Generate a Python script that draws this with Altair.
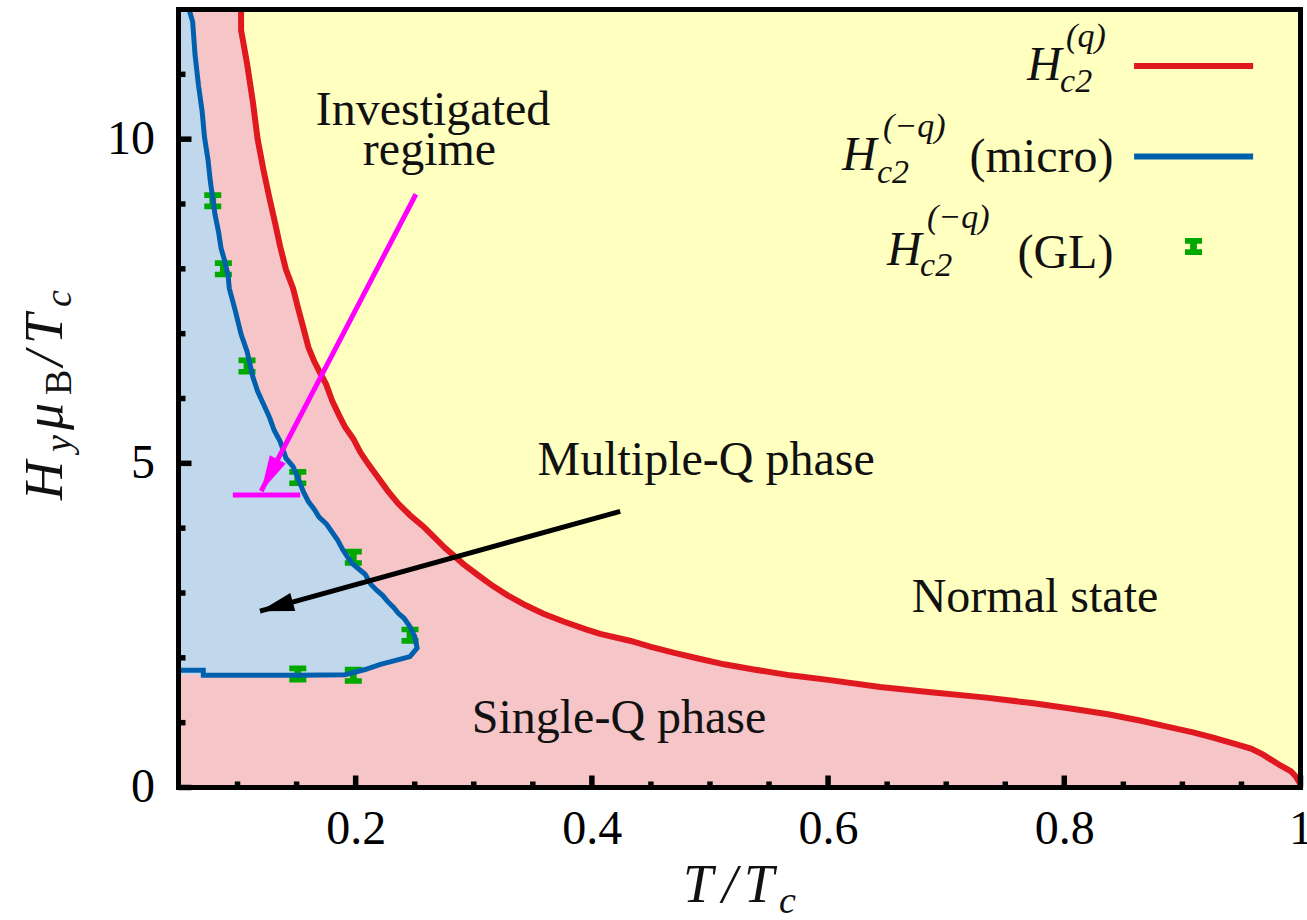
import math
import altair as alt
import pandas as pd

# ---------------- data ----------------
# H_c2^(q) (red)
red_x = [0.103, 0.103, 0.108, 0.113, 0.117, 0.122, 0.127, 0.132, 0.136, 0.141,
         0.147, 0.151, 0.156, 0.160, 0.165, 0.170, 0.175, 0.180, 0.186, 0.191,
         0.198, 0.204, 0.211, 0.219, 0.227, 0.236, 0.246, 0.257, 0.266, 0.276,
         0.291, 0.304, 0.316, 0.329, 0.344, 0.359, 0.376, 0.395, 0.407, 0.433,
         0.450, 0.469, 0.490, 0.512, 0.537, 0.568, 0.600, 0.644, 0.687, 0.732,
         0.774, 0.808, 0.837, 0.865, 0.887, 0.909, 0.926, 0.943, 0.958, 0.968,
         0.975, 0.983, 0.992, 0.996, 1.0]
red_y = [12.0, 11.68, 11.17, 10.57, 10.0, 9.52, 9.09, 8.69, 8.35, 7.99,
         7.70, 7.41, 7.07, 6.79, 6.57, 6.39, 6.22, 5.97, 5.74, 5.56,
         5.38, 5.17, 4.98, 4.78, 4.58, 4.38, 4.20, 4.03, 3.87, 3.69,
         3.45, 3.27, 3.11, 2.96, 2.81, 2.68, 2.56, 2.44, 2.37, 2.26,
         2.17, 2.08, 1.99, 1.90, 1.82, 1.73, 1.66, 1.55, 1.47, 1.39,
         1.30, 1.21, 1.13, 1.03, 0.94, 0.85, 0.77, 0.68, 0.60, 0.51,
         0.43, 0.34, 0.25, 0.17, 0.05]

# H_c2^(-q) (micro) (blue), in drawing order
blue_x = [0.059, 0.062, 0.064, 0.067, 0.070, 0.072, 0.075, 0.077, 0.079, 0.081,
          0.084, 0.086, 0.089, 0.092, 0.093, 0.098, 0.103, 0.108, 0.113, 0.117,
          0.122, 0.127, 0.131, 0.136, 0.141, 0.147, 0.151, 0.156, 0.160, 0.165,
          0.169, 0.175, 0.180, 0.185, 0.189, 0.194, 0.198, 0.208, 0.213, 0.218,
          0.223, 0.227, 0.232, 0.236, 0.241, 0.246, 0.250, 0.252, 0.246, 0.238,
          0.221, 0.208, 0.191, 0.153, 0.111, 0.071, 0.071, 0.05]
blue_y = [12.0, 11.81, 11.30, 10.82, 10.43, 10.03, 9.68, 9.34, 9.09, 8.83,
          8.56, 8.32, 8.13, 7.90, 7.70, 7.36, 6.99, 6.73, 6.33, 6.11,
          5.91, 5.71, 5.51, 5.34, 5.08, 4.95, 4.78, 4.55, 4.41, 4.29,
          4.17, 4.07, 3.94, 3.81, 3.67, 3.53, 3.44, 3.29, 3.13, 3.04,
          2.96, 2.87, 2.78, 2.69, 2.61, 2.48, 2.33, 2.15, 2.02, 1.98,
          1.90, 1.82, 1.74, 1.73, 1.73, 1.73, 1.81, 1.81]
BLUE_AREA_N = 53  # part of the blue curve that bounds the Multiple-Q region on the right

# H_c2^(-q) (GL) (green points)
gl_x = [0.079, 0.088, 0.108, 0.151, 0.198, 0.246, 0.151, 0.198]
gl_y = [9.05, 8.0, 6.5, 4.78, 3.55, 2.35, 1.75, 1.73]

# annotation arrows
magenta_arrow_x = [0.251, 0.120]
magenta_arrow_y = [9.15, 4.57]
magenta_bar_x = [0.096, 0.153]
magenta_bar_y = [4.51, 4.51]
black_arrow_x = [0.424, 0.119]
black_arrow_y = [4.26, 2.72]

# axes
X_DOM = [0.05, 1.0]
Y_DOM = [0.0, 12.0]
x_major = [0.2, 0.4, 0.6, 0.8, 1.0]
x_minor = [0.1, 0.15, 0.25, 0.3, 0.35, 0.45, 0.5, 0.55, 0.65, 0.7, 0.75, 0.85, 0.9, 0.95]
y_major = [0, 5, 10]
y_minor = [1, 2, 3, 4, 6, 7, 8, 9, 11]

# region labels
region_text = ["Investigated", "regime", "Multiple-Q phase", "Normal state", "Single-Q phase"]
region_x = [0.2655, 0.2625, 0.4967, 0.7752, 0.423]
region_y = [10.22, 9.60, 4.82, 2.70, 0.84]

# legend (math pieces)
leg_big_text = ["H", "H", "H"]
leg_big_x = [0.7685, 0.6118, 0.6499]
leg_big_y = [10.91, 9.524, 8.060]
leg_small_text = ["(q)", "c2", "(\u2212q)", "c2", "(\u2212q)", "c2"]
leg_small_x = [0.8015, 0.7964, 0.6465, 0.6414, 0.6838, 0.6779]
leg_small_y = [11.42, 10.73, 10.03, 9.32, 8.63, 7.89]
leg_suffix_text = ["(micro)", "(GL)"]
leg_suffix_x = [0.8416, 0.8416]
leg_suffix_y = [9.494, 8.013]
leg_line_x = [0.8591, 0.8591]
leg_line_x2 = [0.9599, 0.9599]
leg_line_y = [11.13, 9.733]
leg_line_color = ["red", "blue"]
leg_pt_x = [0.9094]
leg_pt_y = [8.345]

# x-axis title pieces: T / T _c
xt_big_text = ["T", "/", "T"]
xt_big_x = [0.4772, 0.5102, 0.5288]
xt_big_y = [-1.766, -1.766, -1.766]
xt_small_text = ["c"]
xt_small_x = [0.5584]
xt_small_y = [-1.936]

# y-axis title pieces (rotated): H _y mu _B / T _c
yt_big_text = ["H", "\u03bc", "/", "T"]
yt_big_x = [-0.0486, -0.0486, -0.0486, -0.0486]
yt_big_y = [4.435, 5.514, 6.501, 6.841]
yt_small_text = ["y", "c"]
yt_small_x = [-0.0410, -0.0410]
yt_small_y = [5.175, 7.411]
yt_sub_text = ["B"]
yt_sub_x = [-0.0410]
yt_sub_y = [6.054]

# ---------------- styles ----------------
W, H = 1122, 778
FONT = "Liberation Serif"
PINK = "#f6c5c8"
YELLOW = "#ffffc0"
LIGHTBLUE = "#c1d8ec"
RED = "#e0181f"
BLUE = "#0060ad"
GREEN = "#00a800"
MAGENTA = "#ff00ff"
INK = "#111111"
IBEAM = "M-1,-1H1V-0.33H0.4V0.33H1V1H-1V0.33H-0.4V-0.33H-1Z"
TITLE_SIZE = 54
TITLE_SUB = 38

xs = alt.Scale(domain=X_DOM, nice=False, zero=False)
ys = alt.Scale(domain=Y_DOM, nice=False, zero=False)
xaxis = alt.Axis(values=x_major, format="~g", title=None, ticks=False, domain=False,
                 grid=False, labelFont=FONT, labelFontSize=48, labelColor="black",
                 labelPadding=18, labelFlush=False, labelOverlap=False)
yaxis = alt.Axis(values=y_major, format="d", title=None, ticks=False, domain=False,
                 grid=False, labelFont=FONT, labelFontSize=48, labelColor="black",
                 labelPadding=24, labelOverlap=False)


def X(f):
    return alt.X(f, type="quantitative", scale=xs, axis=xaxis)


def Y(f):
    return alt.Y(f, type="quantitative", scale=ys, axis=yaxis)


px_x = W / (X_DOM[1] - X_DOM[0])
px_y = H / (Y_DOM[1] - Y_DOM[0])


def heading(ax, ay):
    dx = (ax[1] - ax[0]) * px_x
    dy = -(ay[1] - ay[0]) * px_y
    return math.degrees(math.atan2(dx, -dy)) % 360


def head_path(half_width):
    return f"M0,0L{half_width},2L{-half_width},2Z"


def text_layer(xv, yv, tv, size, italic=False, align="left", angle=0):
    df = pd.DataFrame({"x": xv, "y": yv, "t": tv})
    kw = dict(font=FONT, fontSize=size, align=align, baseline="alphabetic", color=INK)
    if italic:
        kw["fontStyle"] = "italic"
    if angle:
        kw["angle"] = angle
    return alt.Chart(df).mark_text(**kw).encode(x=X("x"), y=Y("y"), text="t:N")


# ---------------- tables ----------------
df_red = pd.DataFrame({"x": red_x, "y": red_y, "i": range(len(red_x))})
df_red["top"] = Y_DOM[1]
df_blue = pd.DataFrame({"x": blue_x, "y": blue_y, "i": range(len(blue_x))})
df_blue_area = df_blue.iloc[:BLUE_AREA_N].copy()
df_blue_area["x0"] = X_DOM[0]
df_gl = pd.DataFrame({"x": gl_x, "y": gl_y})
df_mag = pd.DataFrame({"x": magenta_arrow_x, "y": magenta_arrow_y, "i": [0, 1]})
df_mag_bar = pd.DataFrame({"x": [magenta_bar_x[0]], "x2": [magenta_bar_x[1]], "y": [magenta_bar_y[0]]})
df_blk = pd.DataFrame({"x": black_arrow_x, "y": black_arrow_y, "i": [0, 1]})
df_mag_tip = pd.DataFrame({"x": [magenta_arrow_x[1]], "y": [magenta_arrow_y[1]]})
df_blk_tip = pd.DataFrame({"x": [black_arrow_x[1]], "y": [black_arrow_y[1]]})

df_xmaj = pd.DataFrame({"v": x_major})
df_xmin = pd.DataFrame({"v": x_minor})
df_ymaj = pd.DataFrame({"v": y_major})
df_ymin = pd.DataFrame({"v": y_minor})

df_legline = pd.DataFrame({"x": leg_line_x, "x2": leg_line_x2, "y": leg_line_y, "c": leg_line_color})
df_legpt = pd.DataFrame({"x": leg_pt_x, "y": leg_pt_y})
df_frame = pd.DataFrame({"k": [0]})

# ---------------- layers ----------------
yellow = alt.Chart(df_red).mark_area(color=YELLOW, clip=True).encode(
    x=X("x"), y=Y("y"), y2=alt.Y2("top"))
lightblue = alt.Chart(df_blue_area).mark_area(color=LIGHTBLUE, orient="horizontal", clip=True).encode(
    y=Y("y"), x=X("x"), x2=alt.X2("x0"))
gl = alt.Chart(df_gl).mark_point(shape=IBEAM, size=289, filled=True, color=GREEN,
                                  opacity=1, strokeWidth=0).encode(x=X("x"), y=Y("y"))
blue_line = alt.Chart(df_blue).mark_line(color=BLUE, strokeWidth=5, clip=True).encode(
    x=X("x"), y=Y("y"), order="i:Q")
red_line = alt.Chart(df_red).mark_line(color=RED, strokeWidth=6, clip=True).encode(
    x=X("x"), y=Y("y"), order="i:Q")
mag_line = alt.Chart(df_mag).mark_line(color=MAGENTA, strokeWidth=5).encode(
    x=X("x"), y=Y("y"), order="i:Q")
mag_bar = alt.Chart(df_mag_bar).mark_rule(color=MAGENTA, strokeWidth=5).encode(
    x=X("x"), x2=alt.X2("x2"), y=Y("y"))
mag_head = alt.Chart(df_mag_tip).mark_point(
    shape=head_path(0.5), size=1296, filled=True, color=MAGENTA, opacity=1, strokeWidth=0,
    angle=heading(magenta_arrow_x, magenta_arrow_y)).encode(x=X("x"), y=Y("y"))
blk_line = alt.Chart(df_blk).mark_line(color="black", strokeWidth=5).encode(
    x=X("x"), y=Y("y"), order="i:Q")
blk_head = alt.Chart(df_blk_tip).mark_point(
    shape=head_path(0.55), size=1156, filled=True, color="black", opacity=1, strokeWidth=0,
    angle=heading(black_arrow_x, black_arrow_y)).encode(x=X("x"), y=Y("y"))

tick_style = dict(color="black", strokeWidth=5.5)
xmaj = alt.Chart(df_xmaj).mark_rule(**tick_style).encode(x=X("v"), y=alt.value(H), y2=alt.value(H - 12))
xmin = alt.Chart(df_xmin).mark_rule(**tick_style).encode(x=X("v"), y=alt.value(H), y2=alt.value(H - 6))
ymaj = alt.Chart(df_ymaj).mark_rule(**tick_style).encode(y=Y("v"), x=alt.value(0), x2=alt.value(13))
ymin = alt.Chart(df_ymin).mark_rule(**tick_style).encode(y=Y("v"), x=alt.value(0), x2=alt.value(7))

region = text_layer(region_x, region_y, region_text, 48, align="center")
big = text_layer(leg_big_x, leg_big_y, leg_big_text, 48, italic=True)
small = text_layer(leg_small_x, leg_small_y, leg_small_text, 34, italic=True)
suffix = text_layer(leg_suffix_x, leg_suffix_y, leg_suffix_text, 48, align="right")
xtb = text_layer(xt_big_x, xt_big_y, xt_big_text, TITLE_SIZE, italic=True)
xts = text_layer(xt_small_x, xt_small_y, xt_small_text, TITLE_SUB, italic=True)
ytb = text_layer(yt_big_x, yt_big_y, yt_big_text, TITLE_SIZE, italic=True, angle=270)
yts = text_layer(yt_small_x, yt_small_y, yt_small_text, TITLE_SUB, italic=True, angle=270)
ytu = text_layer(yt_sub_x, yt_sub_y, yt_sub_text, TITLE_SUB, angle=270)

legline = alt.Chart(df_legline).mark_rule(strokeWidth=6).encode(
    x=X("x"), x2=alt.X2("x2"), y=Y("y"),
    color=alt.Color("c:N", scale=alt.Scale(domain=["red", "blue"], range=[RED, BLUE]), legend=None))
legpt = alt.Chart(df_legpt).mark_point(shape=IBEAM, size=289, filled=True, color=GREEN,
                                        opacity=1, strokeWidth=0).encode(x=X("x"), y=Y("y"))
frame = alt.Chart(df_frame).mark_rect(fillOpacity=0, stroke="black", strokeWidth=5).encode(
    x=alt.value(0), x2=alt.value(W), y=alt.value(0), y2=alt.value(H))

chart = alt.layer(
    yellow, lightblue, gl, blue_line, red_line, mag_line, mag_bar, mag_head,
    blk_line, blk_head, region, big, small, suffix, legline, legpt,
    xtb, xts, ytb, yts, ytu, xmaj, xmin, ymaj, ymin, frame,
).properties(
    width=W, height=H,
    padding={"left": 178.5, "top": 9.5, "right": 6.5, "bottom": 132.5},
    autosize=alt.AutoSizeParams(type="none"),
    background="white",
).configure_view(strokeWidth=0, fill=PINK)

chart.save("out.html", embed_options={"renderer": "svg", "actions": False})
